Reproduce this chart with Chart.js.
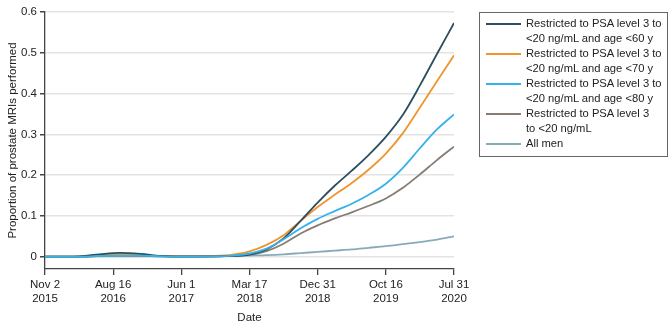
<!DOCTYPE html>
<html>
<head>
<meta charset="utf-8">
<script src="https://cdn.jsdelivr.net/npm/chart.js@4/dist/chart.umd.min.js"></script>
<style>
  body { margin: 0; background: #fff; }
  #wrap { position: relative; width: 672px; height: 330px; }
  #legend {
    position: absolute; left: 479px; top: 12px; width: 189px; height: 145px;
    box-sizing: border-box; border: 1.5px solid #666; padding: 3px 0 0 6px;
    font-family: "Liberation Sans", Arial, sans-serif;
    font-size: 11.2px; color: #222; line-height: 15px; white-space: nowrap;
  }
  .item { display: flex; align-items: flex-start; }
  .swatch { width: 35px; height: 2px; margin: 7px 5px 0 0; flex: none; }
</style>
</head>
<body>
<div id="wrap">
  <canvas id="chart"></canvas>
  <div id="legend"></div>
</div>
<script>
// Positions en unités d'intervalle entre graduations (0 = Nov 2 2015, 6 = Jul 31 2020)
const xs = [0, 0.5, 0.8, 1.1, 1.4, 1.7, 2, 2.5, 2.75, 3, 3.25, 3.5, 3.75, 4, 4.25, 4.5, 4.75, 5, 5.25, 5.5, 5.75, 6];

const age60 = [0, 0.001, 0.006, 0.0095, 0.007, 0.002, 0.001, 0.001, 0.002, 0.005, 0.018, 0.045, 0.088, 0.133, 0.174, 0.211, 0.25, 0.294, 0.348, 0.42, 0.497, 0.573];
const age70 = [0, 0.001, 0.004, 0.006, 0.005, 0.002, 0.001, 0.002, 0.005, 0.013, 0.029, 0.053, 0.088, 0.122, 0.152, 0.181, 0.214, 0.253, 0.303, 0.366, 0.43, 0.494];
const age80 = [0, 0, 0.002, 0.003, 0.003, 0.001, 0, 0.001, 0.003, 0.008, 0.02, 0.043, 0.07, 0.093, 0.112, 0.13, 0.152, 0.179, 0.218, 0.266, 0.312, 0.349];
const psaOnly = [0, 0, 0.002, 0.003, 0.002, 0.001, 0, 0.001, 0.002, 0.005, 0.014, 0.032, 0.057, 0.077, 0.094, 0.109, 0.125, 0.143, 0.169, 0.202, 0.237, 0.27];
const allMen = [0, 0, 0.001, 0.001, 0.001, 0.001, 0, 0.001, 0.002, 0.003, 0.004, 0.006, 0.009, 0.012, 0.015, 0.018, 0.022, 0.026, 0.031, 0.036, 0.042, 0.05];

const xTickLabels = [
  ["Nov 2", "2015"],
  ["Aug 16", "2016"],
  ["Jun 1", "2017"],
  ["Mar 17", "2018"],
  ["Dec 31", "2018"],
  ["Oct 16", "2019"],
  ["Jul 31", "2020"],
];
const yTicks = [0, 0.1, 0.2, 0.3, 0.4, 0.5, 0.6];

const seriesLabels = [
  "Restricted to PSA level 3 to <20 ng/mL and age <60 y",
  "Restricted to PSA level 3 to <20 ng/mL and age <70 y",
  "Restricted to PSA level 3 to <20 ng/mL and age <80 y",
  "Restricted to PSA level 3 to <20 ng/mL",
  "All men",
];
const legendLines = [
  ["Restricted to PSA level 3 to", "<20 ng/mL and age <60 y"],
  ["Restricted to PSA level 3 to", "<20 ng/mL and age <70 y"],
  ["Restricted to PSA level 3 to", "<20 ng/mL and age <80 y"],
  ["Restricted to PSA level 3", "to <20 ng/mL"],
  ["All men"],
];
const colors = ["#2c4f5d", "#f0952d", "#36b2ea", "#877b73", "#88abba"];
const drawOrder = [1, 2, 0, 3, 4];

const FONT = '"Liberation Sans", Arial, sans-serif';
Chart.defaults.font.family = FONT;
Chart.defaults.font.size = 11.5;
Chart.defaults.color = "#222";

function toPoints(values) {
  return values.map((v, i) => ({ x: xs[i], y: v }));
}

const allSeries = [age60, age70, age80, psaOnly, allMen];
const datasets = allSeries.map((values, i) => ({
  label: seriesLabels[i],
  data: toPoints(values),
  borderColor: colors[i],
  backgroundColor: colors[i],
  borderWidth: 1.8,
  pointRadius: 0,
  cubicInterpolationMode: "monotone",
  order: drawOrder[i],
}));

// Légende HTML (libellés sur deux lignes)
const legendEl = document.getElementById("legend");
legendLines.forEach((lines, i) => {
  const item = document.createElement("div");
  item.className = "item";
  const sw = document.createElement("div");
  sw.className = "swatch";
  sw.style.background = colors[i];
  const txt = document.createElement("div");
  lines.forEach((line, j) => {
    if (j > 0) txt.appendChild(document.createElement("br"));
    txt.appendChild(document.createTextNode(line));
  });
  item.appendChild(sw);
  item.appendChild(txt);
  legendEl.appendChild(item);
});

const axisColor = "#444";

new Chart(document.getElementById("chart"), {
  type: "line",
  data: { datasets },
  options: {
    responsive: true,
    maintainAspectRatio: false,
    animation: false,
    layout: { padding: { left: 6, right: 218, top: 12, bottom: 5 } },
    plugins: { legend: { display: false }, tooltip: { enabled: false } },
    scales: {
      x: {
        type: "linear",
        min: 0,
        max: 6,
        afterBuildTicks: (scale) => {
          scale.ticks = xTickLabels.map((_, i) => ({ value: i }));
        },
        afterFit: (scale) => { scale.height = 56; },
        ticks: {
          autoSkip: false,
          maxRotation: 0,
          padding: 3,
          callback: (v, i) => xTickLabels[i],
        },
        grid: { drawOnChartArea: false, tickLength: 6, tickColor: axisColor, lineWidth: 1.3 },
        border: { color: axisColor, width: 1.3 },
        title: { display: true, text: "Date", padding: { top: 2, bottom: 0 } },
      },
      y: {
        min: -0.03,
        max: 0.6,
        afterBuildTicks: (scale) => {
          scale.ticks = yTicks.map((v) => ({ value: v }));
        },
        afterFit: (scale) => { scale.width = 39; },
        ticks: {
          padding: 3,
          callback: (v) => (v === 0 ? "0" : v.toFixed(1)),
        },
        grid: { color: "#e3e3e3", lineWidth: 1.5, tickLength: 5, tickColor: axisColor },
        border: { color: axisColor, width: 1.3 },
        title: { display: true, text: "Proportion of prostate MRIs performed", padding: 0 },
      },
    },
  },
});
</script>
</body>
</html>
